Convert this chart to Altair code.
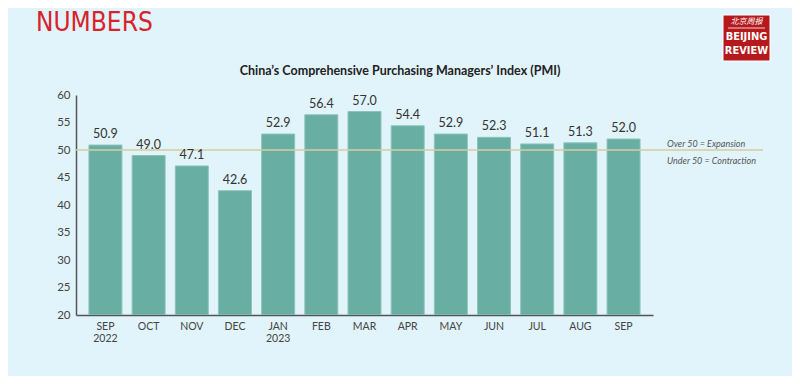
import altair as alt
import pandas as pd

months = ["SEP\n2022", "OCT", "NOV", "DEC", "JAN\n2023", "FEB", "MAR", "APR",
          "MAY", "JUN", "JUL", "AUG", "SEP"]
pmi = [50.9, 49.0, 47.1, 42.6, 52.9, 56.4, 57.0, 54.4, 52.9, 52.3, 51.1, 51.3, 52.0]
threshold = [50]
notes = ["Over 50 = Expansion", "Under 50 = Contraction"]
title_text = ["China’s Comprehensive Purchasing Managers’ Index (PMI)"]

BG = "#E1F3FB"
BAR = "#68AEA2"
FONT = "Lato"
COND = "'DejaVu Sans Condensed', 'Roboto Condensed', 'Liberation Sans Narrow', Roboto, sans-serif"

df = pd.DataFrame({"month": months, "pmi": pmi})
df["lbl"] = df["pmi"].map(lambda v: f"{v:.1f}")
ref = pd.DataFrame({"y": threshold})

W, H = 687, 220

x = alt.X("month:N", sort=months,
          scale=alt.Scale(range=[0, 577], paddingInner=0.236, paddingOuter=0.3),
          axis=alt.Axis(title=None, labelAngle=0, ticks=False, labelPadding=6,
                        labelExpr="split(datum.label, '\\n')",
                        labelFont=FONT, labelFontSize=10.5, labelColor="#444",
                        domainColor="#555", domainWidth=1.5, labelLineHeight=12))
y_scale = alt.Scale(domain=[20, 60], nice=False, zero=False)
y_axis = alt.Axis(title=None, values=list(range(20, 61, 5)), ticks=False,
                  grid=False, labelPadding=6, labelFont=FONT, labelFontSize=11.5,
                  labelOverlap=False, labelColor="#444", domainColor="#555",
                  domainWidth=1.5)


def Y(field):
    return alt.Y(field, scale=y_scale, axis=y_axis)


bars = alt.Chart(df).mark_bar(color=BAR, stroke="#8CC4BA", strokeWidth=1, clip=True).encode(
    x=x, y=Y("pmi:Q"), y2=alt.datum(20))
vals = alt.Chart(df).mark_text(baseline="bottom", dy=-4, font=FONT, fontSize=12.5,
                               color="#333").encode(x=x, y=Y("pmi:Q"), text="lbl:N")
rule = alt.Chart(ref).mark_rule(color="#D5CE9E", strokeWidth=1.6).encode(y=Y("y:Q"))

note_df = pd.DataFrame({"y": [50, 50], "t": notes})
note1 = alt.Chart(note_df.iloc[[0]]).mark_text(
    align="left", baseline="middle", dy=-6, font=FONT, fontSize=9, fontStyle="italic",
    color="#555").encode(x=alt.value(591), y=Y("y:Q"), text="t:N")
note2 = alt.Chart(note_df.iloc[[1]]).mark_text(
    align="left", baseline="middle", dy=11, font=FONT, fontSize=9, fontStyle="italic",
    color="#555").encode(x=alt.value(591), y=Y("y:Q"), text="t:N")

title = alt.Chart(pd.DataFrame({"t": title_text})).mark_text(
    font=FONT, fontSize=12.5, fontWeight="bold", color="#222", baseline="middle").encode(
    x=alt.value(324), y=alt.value(-24), text="t:N")

hdr = pd.DataFrame({"t": ["NUMBERS"]})
numbers = alt.Chart(hdr).mark_text(
    align="left", baseline="middle", font=COND, fontSize=26,
    color="#D7232B").encode(x=alt.value(-40), y=alt.value(-72), text="t:N")

logo_box = alt.Chart(hdr).mark_rect(color="#B5191C", stroke="white", strokeWidth=1).encode(
    x=alt.value(647), x2=alt.value(694), y=alt.value(-80), y2=alt.value(-34))
logo_cn = alt.Chart(pd.DataFrame({"t": ["北京周报"]})).mark_text(
    font="Noto Sans CJK SC", fontSize=8, color="white", fontStyle="italic").encode(
    x=alt.value(670.5), y=alt.value(-73), text="t:N")
logo_line = alt.Chart(hdr).mark_rule(color="white", strokeWidth=0.8).encode(
    x=alt.value(652), x2=alt.value(689), y=alt.value(-67))
logo_en = alt.Chart(pd.DataFrame({"t": ["BEIJING", "REVIEW"], "yy": [-58, -44]})).mark_text(
    font=COND, fontWeight="bold", fontSize=11, color="white").encode(
    x=alt.value(670.5), y=alt.Y("yy:Q", scale=None), text="t:N")

chart = alt.layer(bars, rule, vals, note1, note2, title, numbers,
                  logo_box, logo_cn, logo_line, logo_en).properties(
    width=W, height=H,
    background=BG,
    padding={"left": 68, "top": 87, "right": 29, "bottom": 61},
    autosize=alt.AutoSizeParams(type="none"),
).configure_view(stroke=None).configure_axis(grid=False)

chart.save("out.html", embed_options={"renderer": "svg", "actions": False})
